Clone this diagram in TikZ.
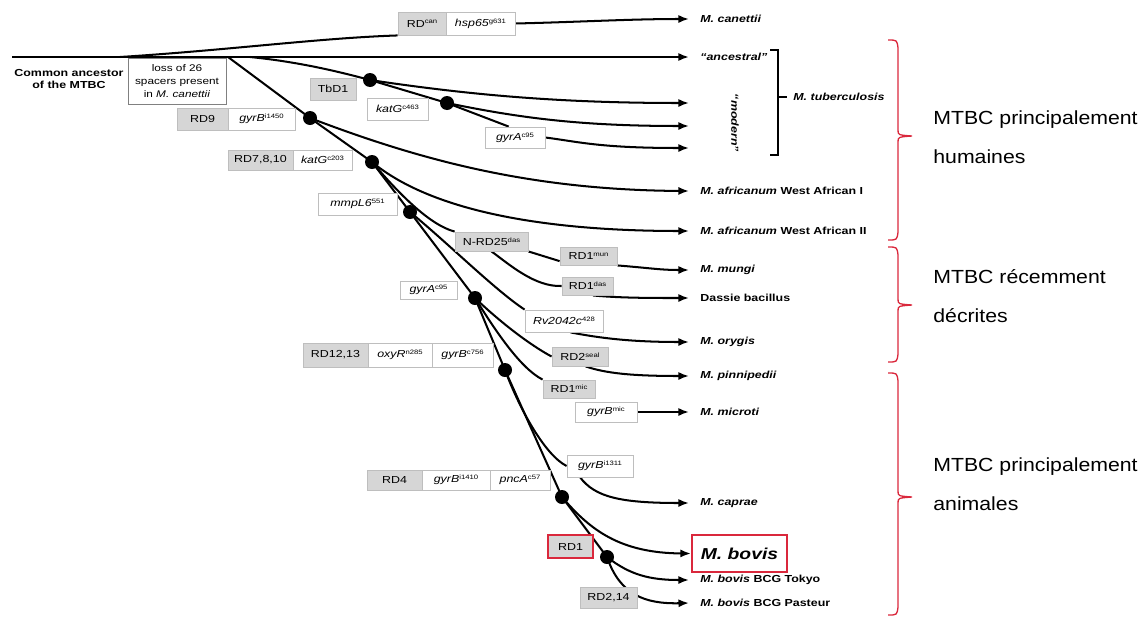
\documentclass[tikz,border=0pt]{standalone}
\usepackage{fontspec}
\setmainfont{Liberation Sans}
\newfontfamily\lf[FakeStretch=1.22]{Liberation Sans}
\newfontfamily\rf[FakeStretch=1.12]{Liberation Sans}
\usetikzlibrary{arrows.meta}
\pgfdeclarelayer{bg}
\pgfsetlayers{bg,main}
\definecolor{boxgray}{RGB}{214,214,214}
\definecolor{boxline}{RGB}{190,190,190}
\definecolor{bred}{RGB}{218,40,60}
\newcommand\sps[1]{\raisebox{0.6ex}{\fontsize{3.6pt}{4pt}\selectfont #1}}
\tikzset{
  br/.style={line width=1.15pt, black},
  arr/.style={br, -{Latex[length=6pt,width=4.6pt]}},
  gbox/.style={draw=boxline, fill=boxgray, line width=0.5pt, inner sep=0pt, font=\lf\fontsize{5.8pt}{7pt}\selectfont},
  wbox/.style={gbox, fill=white},
  dotn/.style={circle, fill=black, inner sep=0pt, minimum size=14*0.02cm},
  sp/.style={anchor=west, inner sep=0pt, font=\lf\fontsize{5.8pt}{7pt}\selectfont\bfseries\itshape},
  side/.style={anchor=west, align=left, inner sep=0pt, font=\rf\fontsize{10.8pt}{22pt}\selectfont},
  rb/.style={draw=bred, line width=0.75pt},
}
\newcommand\labbox[7]{\node[#1, minimum width={(#5-#3)*0.02cm}, minimum height={(#6-#4)*0.02cm}] (#2) at ({(#3+#5)/2},{(#4+#6)/2}) {#7};}
\newcommand\redbrace[3]{\draw[rb] (888,#1) .. controls (897,#1) .. (898,#1+8) -- (898,#2-6) .. controls (898,#2-1) .. (912,#2) .. controls (898,#2+1) .. (898,#2+6) -- (898,#3-8) .. controls (897,#3) .. (888,#3);}
\begin{document}
\begin{tikzpicture}[x=0.02cm,y=-0.02cm]
\useasboundingbox (0,0) rectangle (1148,619);

% boxes
\labbox{gbox}{rdcan}{398}{12}{446}{35}{RD\sps{can}}
\labbox{wbox}{hsp}{446}{12}{515}{35}{\textit{hsp65}\sps{g631}}
\labbox{wbox, draw=gray, align=center, font=\lf\fontsize{5.5pt}{7.4pt}\selectfont}{loss}{128}{58}{226}{104}{loss of 26\\spacers present\\in \textit{M. canettii}}
\labbox{gbox}{tbd}{310}{78}{356}{100}{TbD1}
\labbox{wbox}{kat1}{367}{98}{428}{120}{\textit{katG}\sps{c463}}
\labbox{wbox}{gyra1}{485}{127}{545}{148}{\textit{gyrA}\sps{c95}}
\labbox{gbox}{rd9}{177}{108}{228}{130}{RD9}
\labbox{wbox}{gyb1}{228}{108}{295}{130}{\textit{gyrB}\sps{i1450}}
\labbox{gbox}{rd7}{228}{150}{293}{170}{RD7,8,10}
\labbox{wbox}{kat2}{293}{150}{352}{170}{\textit{katG}\sps{c203}}
\labbox{wbox}{mmp}{318}{193}{397}{215}{\textit{mmpL6}\sps{551}}
\labbox{gbox}{nrd}{455}{232}{528}{251}{N-RD25\sps{das}}
\labbox{gbox}{rdmun}{560}{247}{617}{265}{RD1\sps{mun}}
\labbox{gbox}{rddas}{562}{277}{613}{295}{RD1\sps{das}}
\labbox{wbox}{gyra2}{400}{281}{457}{299}{\textit{gyrA}\sps{c95}}
\labbox{wbox}{rv}{525}{310}{603}{332}{\textit{Rv2042c}\sps{428}}
\labbox{gbox}{rdseal}{552}{347}{608}{366}{RD2\sps{seal}}
\labbox{gbox}{rdmic}{543}{380}{595}{398}{RD1\sps{mic}}
\labbox{wbox}{gybmic}{575}{402}{637}{422}{\textit{gyrB}\sps{mic}}
\labbox{gbox}{rd12}{303}{343}{368}{367}{RD12,13}
\labbox{wbox}{oxy}{368}{343}{432}{367}{\textit{oxyR}\sps{n285}}
\labbox{wbox}{gyb756}{432}{343}{493}{367}{\textit{gyrB}\sps{c756}}
\labbox{wbox}{gyb1311}{567}{455}{633}{477}{\textit{gyrB}\sps{i1311}}
\labbox{gbox}{rd4}{367}{470}{422}{490}{RD4}
\labbox{wbox}{gyb1410}{422}{470}{490}{490}{\textit{gyrB}\sps{i1410}}
\labbox{wbox}{pnc}{490}{470}{550}{490}{\textit{pncA}\sps{c57}}
\labbox{gbox, draw=bred, line width=1.2pt}{rd1}{548}{535}{593}{558}{RD1}
\labbox{gbox}{rd214}{580}{587}{637}{608}{RD2,14}
\labbox{wbox, draw=bred, line width=1.2pt, font=\lf\fontsize{9pt}{10pt}\selectfont\bfseries\itshape}{bovis}{692}{535}{787}{572}{M. bovis}

% dots
\node[dotn] (dtb) at (370,80) {};
\node[dotn] (dkat) at (447,103) {};
\node[dotn] (drd9) at (310,118) {};
\node[dotn] (drd7) at (372,162) {};
\node[dotn] (dmm) at (410,212) {};
\node[dotn] (dgyr) at (475,298) {};
\node[dotn] (drd12) at (505,370) {};
\node[dotn] (drd4) at (562,497) {};
\node[dotn] (drd1) at (607,557) {};

% coordinates
\coordinate (start) at (12,57);
\coordinate (jcan) at (120,57);
\coordinate (jrd9) at (228,57);
\coordinate (jtb) at (250,57);
\coordinate (ecan) at (689,19);
\coordinate (eanc) at (689,57);
\coordinate (em1) at (689,103);
\coordinate (em2) at (689,126);
\coordinate (em3) at (689,148);
\coordinate (ewa1) at (689,191);
\coordinate (ewa2) at (689,231);
\coordinate (emun) at (689,270);
\coordinate (edas) at (689,298);
\coordinate (eory) at (689,342);
\coordinate (epin) at (689,376);
\coordinate (emic) at (689,412);
\coordinate (ecap) at (689,503);
\coordinate (etok) at (689,580);
\coordinate (epas) at (689,603);

% labels
\node[font=\lf\fontsize{5.8pt}{6.8pt}\selectfont\bfseries, align=center, inner sep=0pt] (anc) at (69,79) {Common ancestor\\of the MTBC};
\node[sp] (lcan) at (700,19) {M. canettii};
\node[sp] (lanc) at (700,57) {“ancestral”};
\node[sp, anchor=center, rotate=-90] (lmod) at (735,123) {“modern”};
\node[sp] (ltb) at (793,97) {M. tuberculosis};
\node[sp] (lwa1) at (700,191) {M. africanum {\upshape West African I}};
\node[sp] (lwa2) at (700,231) {M. africanum {\upshape West African II}};
\node[sp] (lmun) at (700,270) {M. mungi};
\node[sp] (ldas) at (700,298) {\upshape Dassie bacillus};
\node[sp] (lory) at (700,342) {M. orygis};
\node[sp] (lpin) at (700,376) {M. pinnipedii};
\node[sp] (lmic) at (700,412) {M. microti};
\node[sp] (lcap) at (700,503) {M. caprae};
\node[sp] (ltok) at (700,580) {M. bovis {\upshape BCG Tokyo}};
\node[sp] (lpas) at (700,603) {M. bovis {\upshape BCG Pasteur}};

\node[side] (sh) at (933,137) {MTBC principalement\\humaines};
\node[side] (sr) at (933,296) {MTBC récemment\\décrites};
\node[side] (sa) at (933,484) {MTBC principalement\\animales};

% brackets
\draw[line width=0.6pt] (770,50) -- (778,50) -- (778,155) -- (770,155);
\draw[line width=0.6pt] (778,97) -- (787,97);
\redbrace{40}{136}{240}
\redbrace{247}{305}{362}
\redbrace{373}{497}{615}

\begin{pgfonlayer}{bg}
\draw[arr, line width=1.5pt] (start) -- (eanc);
\draw[br] (jcan) .. controls (230,50) and (320,38) .. (rdcan.south west);
\draw[arr] (hsp.east) .. controls (580,22) and (630,19) .. (ecan);
\draw[br] (jrd9) -- (drd9.center);
\draw[br] (jtb) .. controls (300,62) and (340,72) .. (dtb.center);
\draw[arr] (dtb.center) .. controls (470,95) and (560,103) .. (em1);
\draw[br] (dtb.center) -- (dkat.center);
\draw[arr] (dkat.center) .. controls (520,118) and (580,126) .. (em2);
\draw[br] (dkat.center) -- (gyra1.120);
\draw[arr] (gyra1.east) .. controls (580,142) and (600,148) .. (em3);
\draw[arr] (drd9.center) .. controls (420,160) and (530,190) .. (ewa1);
\draw[br] (drd9.center) -- (drd7.center);
\draw[arr] (drd7.center) .. controls (430,210) and (540,231) .. (ewa2);
\draw[br] (drd7.center) -- (dmm.center);
\draw[br] (drd7.center) .. controls (400,195) and (430,225) .. (nrd.north west);
\draw[br] (dmm.center) -- (dgyr.center);
\draw[br] (dmm.center) .. controls (450,245) and (495,290) .. (rv.north west);
\draw[br] (nrd.south east) -- (rdmun.190);
\draw[br] (nrd.south) .. controls (510,265) and (535,287) .. (rddas.west);
\draw[arr] (rdmun.south east) .. controls (650,268) and (660,270) .. (emun);
\draw[arr] (rddas.-60) .. controls (620,298) and (650,298) .. (edas);
\draw[arr] (rv.-60) .. controls (600,338) and (630,342) .. (eory);
\draw[br] (dgyr.center) .. controls (500,322) and (530,345) .. (rdseal.west);
\draw[arr] (rdseal.-60) .. controls (605,373) and (630,376) .. (epin);
\draw[br] (dgyr.center) .. controls (495,330) and (520,368) .. (rdmic.north west);
\draw[arr] (gybmic.east) -- (emic);
\draw[br] (dgyr.center) -- (drd12.center);
\draw[br] (drd12.center) .. controls (520,410) and (545,455) .. (gyb1311.west);
\draw[arr] (gyb1311.-150) .. controls (595,497) and (620,503) .. (ecap);
\draw[br] (drd12.center) -- (drd4.center);
\draw[arr] (drd4.center) .. controls (590,530) and (620,553) .. (bovis.west);
\draw[br] (drd4.center) -- (drd1.center);
\draw[arr] (drd1.center) .. controls (630,575) and (650,580) .. (etok);
\draw[arr] (drd1.center) .. controls (620,595) and (645,604) .. (epas);
\end{pgfonlayer}
\end{tikzpicture}
\end{document}
